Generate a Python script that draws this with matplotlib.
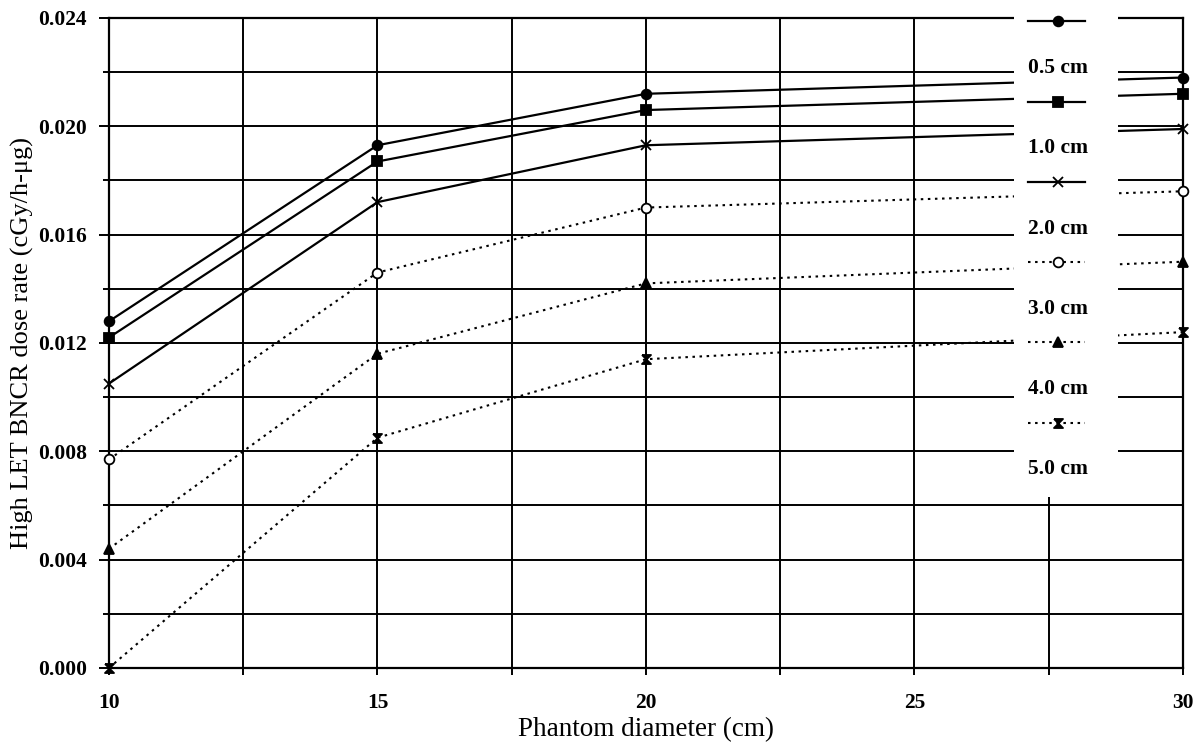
import numpy as np
import matplotlib
matplotlib.use("Agg")
import matplotlib.pyplot as plt
from matplotlib.ticker import MultipleLocator, FormatStrFormatter

# --- donnees ---
diameters = [10, 15, 20, 30]
depths = ["0.5 cm", "1.0 cm", "2.0 cm", "3.0 cm", "4.0 cm", "5.0 cm"]
dose_05 = [0.0128, 0.0193, 0.0212, 0.0218]
dose_10 = [0.0122, 0.0187, 0.0206, 0.0212]
dose_20 = [0.0105, 0.0172, 0.0193, 0.0199]
dose_30 = [0.0077, 0.0146, 0.0170, 0.0176]
dose_40 = [0.0044, 0.0116, 0.0142, 0.0150]
dose_50 = [0.0000, 0.0085, 0.0114, 0.0124]

series = [dose_05, dose_10, dose_20, dose_30, dose_40, dose_50]

hourglass = [(-1, 1), (1, 1), (-1, -1), (1, -1), (-1, 1)]
markers = ["o", "s", "x", "o", "^", hourglass]
faces = ["black", "black", "black", "white", "black", "black"]
msizes = [7, 6.5, 6.5, 7, 7, 6.5]
dotted = (0, (1.2, 2.2))
styles = ["-", "-", "-", dotted, dotted, dotted]

plt.rcParams["font.family"] = ["Liberation Serif", "DejaVu Serif"]

fig = plt.figure(figsize=(12.04, 7.48), dpi=100)
ax = fig.add_axes([0.0905, 0.107, 0.892, 0.869])

for vals, mk, fc, ms, ls in zip(series, markers, faces, msizes, styles):
    lw = 1.6 if ls == "-" else 1.5
    ax.plot(diameters, vals, color="black", linestyle=ls, linewidth=lw,
            marker=mk, markersize=ms, markerfacecolor=fc,
            markeredgecolor="black", markeredgewidth=1.3,
            clip_on=False, zorder=4)

ax.set_xlim(10, 30)
ax.set_ylim(0, 0.024)

ax.xaxis.set_major_locator(MultipleLocator(5))
ax.xaxis.set_minor_locator(MultipleLocator(2.5))
ax.yaxis.set_major_locator(MultipleLocator(0.004))
ax.yaxis.set_minor_locator(MultipleLocator(0.002))
ax.yaxis.set_major_formatter(FormatStrFormatter("%.3f"))

ax.grid(True, which="both", color="black", linewidth=1.4)
ax.set_axisbelow(True)

ax.tick_params(axis="both", which="both", direction="out", color="black",
               width=1.4)
ax.tick_params(axis="x", which="both", length=5, pad=13)
ax.tick_params(axis="y", which="major", length=7, pad=9)
ax.tick_params(axis="y", which="minor", length=4)
for lab in ax.get_xticklabels() + ax.get_yticklabels():
    lab.set_fontweight("bold")
    lab.set_fontsize(15.5)

for sp in ax.spines.values():
    sp.set_linewidth(1.6)

ax.set_xlabel("Phantom diameter (cm)", fontsize=19.5, labelpad=3)
ax.set_ylabel("High LET BNCR dose rate (cGy/h-\u03bcg)", fontsize=19,
              labelpad=3)

# --- legende : trait au-dessus, texte au-dessous, sur fond blanc ---
leg = ax.inset_axes([26.85, 0.0063, 1.95, 0.0184], transform=ax.transData,
                    zorder=6)
leg.set_xlim(0, 1)
leg.set_ylim(0, 1)
leg.set_facecolor("white")
leg.set_xticks([])
leg.set_yticks([])
for sp in leg.spines.values():
    sp.set_visible(False)

top = 0.955
step = 0.161
for i, (name, mk, fc, ms, ls) in enumerate(zip(depths, markers, faces,
                                                msizes, styles)):
    yh = top - i * step
    leg.plot([0.14, 0.42, 0.68], [yh, yh, yh], color="black", linestyle=ls,
             linewidth=1.6 if ls == "-" else 1.5,
             marker=mk, markevery=[1], markersize=ms, markerfacecolor=fc,
             markeredgecolor="black", markeredgewidth=1.3, clip_on=False)
    leg.text(0.42, yh - 0.094, name, ha="center", va="center",
             fontsize=15.5, fontweight="bold")

fig.savefig("out.png", dpi=100)
